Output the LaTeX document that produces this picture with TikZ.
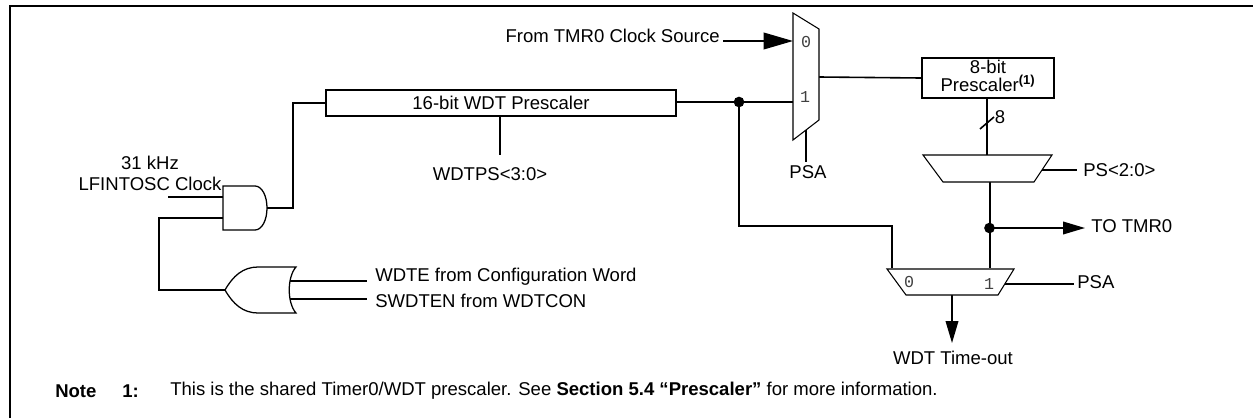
\documentclass[tikz,border=0pt]{standalone}
\usepackage{fontspec}
\setmainfont{Liberation Sans}
\setmonofont{Liberation Mono}
\usetikzlibrary{arrows.meta}
\tikzset{
  wire/.style={line width=1.2pt,line cap=butt},
  gate/.style={line width=0.95pt,fill=white},
  thin gate/.style={line width=0.8pt,fill=white},
  lab/.style={inner sep=0pt,font=\fontsize{13.9pt}{15.7pt}\selectfont},
  pin/.style={inner sep=0pt,font=\ttfamily\fontsize{12.5pt}{13pt}\selectfont,text=black!75},
  dotn/.style={circle,fill=black,inner sep=0pt,minimum size=8pt},
  big/.style={wire,-{Triangle[length=22pt,width=12.5pt]}},
  mid/.style={wire,-{Triangle[length=16.5pt,width=9.5pt]}},
  boxn/.style={draw,line width=1.5pt,inner sep=0pt}
}
\begin{document}
\begin{tikzpicture}[x=0.75pt,y=-0.75pt]
\useasboundingbox (0,0) rectangle (1253,418);
\coordinate (fa) at (9.5,418);
\coordinate (fb) at (9.5,5.5);
\coordinate (fc) at (1253,5.5);
\draw[line width=1.5pt] (fa) -- (fb) -- (fc);
% boxes
\node[boxn,minimum width=350*.75pt,minimum height=26*.75pt,anchor=north west,lab] (wdt) at (325,89) {16-bit WDT Prescaler};
\node[boxn,minimum width=132*.75pt,minimum height=40*.75pt,anchor=north west] (pre) at (921,57) {};
\node[lab,align=center,font=\fontsize{13.9pt}{12pt}\selectfont] (pretxt) at (988,76) {8-bit\\Prescaler\textsuperscript{\textbf{(1)}}};
% coordinates
\coordinate (and1) at (223,197);
\coordinate (and2) at (223,218);
\coordinate (ando) at (267,208);
\coordinate (clk) at (168,197);
\coordinate (ortip) at (225,290);
\coordinate (ori1) at (288,281);
\coordinate (ori2) at (288,299);
\coordinate (wdte) at (367,281);
\coordinate (swdt) at (367,299);
\coordinate (m1o) at (819,77);
\coordinate (m1a) at (793,41);
\coordinate (m1b) at (793,102);
\coordinate (m1s) at (806,128);
\coordinate (src) at (723,41);
\coordinate (tps) at (500,115);
\coordinate (tpe) at (500,155);
\coordinate (psa1) at (806,162);
\coordinate (t1) at (987,155);
\coordinate (t1o) at (990,182);
\coordinate (t1s) at (1042,170);
\coordinate (ps) at (1077,170);
\coordinate (m2a) at (892,268);
\coordinate (m2b) at (990,268);
\coordinate (m2o) at (952,295);
\coordinate (m2s) at (1005,284);
\coordinate (psa2) at (1074,284);
\coordinate (out) at (952,343);
\coordinate (tmr) at (1085,228);
\node[dotn] (d1) at (739,102) {};
\node[dotn] (d2) at (989.5,228) {};
% wires
\draw[wire] (clk) -- (and1);
\draw[wire] (and2) -- (159,218) |- (ortip);
\draw[wire] (ando) -- (293,208) |- (wdt.west);
\draw[wire] (ori1) -- (wdte);
\draw[wire] (ori2) -- (swdt);
\draw[wire] (tps) -- (tpe);
\draw[wire] (wdt.east |- m1b) -- (m1b);
\draw[big] (src) -- (m1a);
\draw[wire] (m1o) -- (pre.west);
\draw[wire] (m1s) -- (psa1);
\draw[wire] (d1.center) -- (739,226) -| (m2a);
\draw[wire] (pre.south -| t1) -- (t1);
\draw[wire] (980,129) -- (994,117);
\draw[wire] (t1s) -- (ps);
\draw[wire] (t1o) -- (m2b);
\draw[mid] (d2.center) -- (tmr);
\draw[wire] (m2s) -- (psa2);
\draw[mid] (m2o) -- (out);
% gates
\draw[gate] (255,186) -- (223,186) -- (223,230) -- (255,230) .. controls (262,230) and (267,220) .. (267,208) .. controls (267,196) and (262,186) .. (255,186);
\draw[gate] (225,290) .. controls (233,276) and (243,267) .. (258,267) -- (296,267) .. controls (287,277) and (287,303) .. (296,313) -- (258,313) .. controls (243,313) and (233,304) .. (225,290) -- cycle;
\draw[thin gate] (793,13) -- (819,29) -- (819,120) -- (793,140) -- cycle;
\draw[thin gate] (923,155) -- (1052,155) -- (1034,182) -- (943,182) -- cycle;
\draw[thin gate] (887,269) -- (1014,269) -- (998,295) -- (906,295) -- cycle;
% texts
\node[lab,anchor=east] (srct) at (720,36) {From TMR0 Clock Source};
\node[lab,align=center] (clkt) at (150,173.5) {31 kHz\\LFINTOSC Clock};
\node[lab,anchor=west] (wt) at (375,277) {WDTE from Configuration Word};
\node[lab,anchor=west] (st) at (375,301) {SWDTEN from WDTCON};
\node[lab] (tpt) at (490,174) {WDTPS<3:0>};
\node[lab] (psat) at (808,172) {PSA};
\node[lab] (eight) at (1000,117) {8};
\node[lab,anchor=west] (pst) at (1083,170) {PS<2:0>};
\node[lab,anchor=west] (tmt) at (1091,226) {TO TMR0};
\node[lab,anchor=west] (pt2) at (1077,282) {PSA};
\node[lab] (wto) at (953,358) {WDT Time-out};
\node[pin] (p0) at (806,42) {0};
\node[pin] (p1) at (805,97) {1};
\node[pin] (p2) at (909,282) {0};
\node[pin] (p3) at (989,284) {1};
\node[lab,anchor=west,font=\fontsize{13.9pt}{15pt}\selectfont\bfseries] (nt) at (55,391) {Note};
\node[lab,anchor=west,font=\fontsize{13.9pt}{15pt}\selectfont\bfseries] (n1) at (122,391) {1:};
\node[lab,anchor=west,font=\fontsize{13.9pt}{15pt}\selectfont] (nx) at (170,391) {This is the shared Timer0/WDT prescaler. See \textbf{Section 5.4 “Prescaler”} for more information.};
\end{tikzpicture}
\end{document}
